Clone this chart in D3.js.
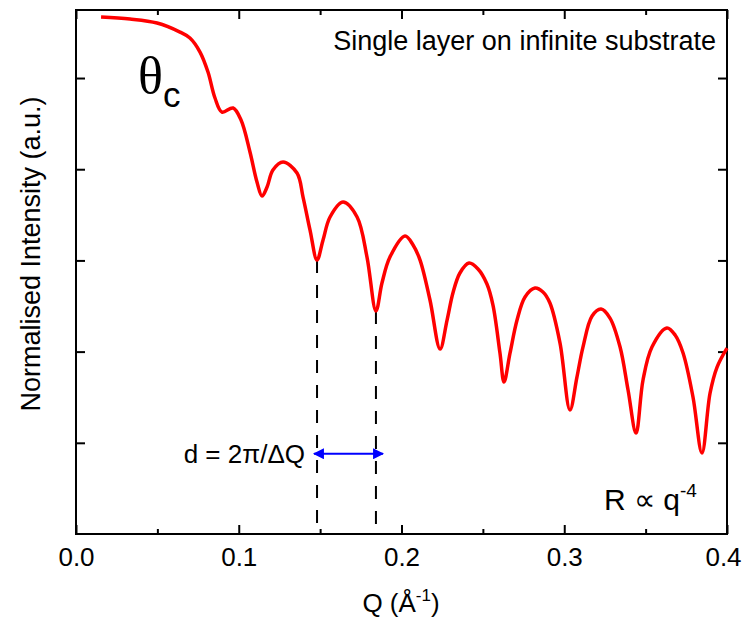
<!DOCTYPE html>
<html>
<head>
<meta charset="utf-8">
<script src="https://cdn.jsdelivr.net/npm/d3@7"></script>
<style>
  body { margin: 0; background: #fff; }
  text { font-family: "Liberation Sans", Arial, sans-serif; fill: #000; }
</style>
</head>
<body>
<svg id="chart" width="742" height="620"></svg>
<script>
// Q values (Å^-1)
const qValues = [0.0154, 0.0332, 0.0498, 0.0639, 0.0700, 0.0762, 0.0811, 0.0854, 0.0897, 0.0965,
  0.1014, 0.1069, 0.1112, 0.1143, 0.1174, 0.1210, 0.1272, 0.1358, 0.1395, 0.1438,
  0.1481, 0.1518, 0.1561, 0.1641, 0.1727, 0.1788, 0.1843, 0.1880, 0.1929, 0.2022,
  0.2071, 0.2114, 0.2175, 0.2237, 0.2280, 0.2316, 0.2359, 0.2415, 0.2470, 0.2525,
  0.2562, 0.2605, 0.2630, 0.2667, 0.2710, 0.2759, 0.2820, 0.2869, 0.2912, 0.2974,
  0.3035, 0.3078, 0.3115, 0.3171, 0.3226, 0.3281, 0.3343, 0.3392, 0.3441, 0.3484,
  0.3539, 0.3631, 0.3681, 0.3730, 0.3791, 0.3846, 0.3896, 0.3939, 0.4000];

// log10 of normalised intensity at each Q
const logIntensity = [-0.331, -0.353, -0.397, -0.496, -0.561, -0.715, -0.934, -1.219, -1.373, -1.329,
  -1.461, -1.811, -2.140, -2.294, -2.195, -2.009, -1.921, -2.042, -2.305, -2.667,
  -2.996, -2.776, -2.524, -2.360, -2.524, -2.963, -3.555, -3.248, -2.963, -2.732,
  -2.831, -2.996, -3.434, -3.971, -3.654, -3.357, -3.138, -3.029, -3.094, -3.259,
  -3.490, -4.015, -4.333, -4.015, -3.654, -3.401, -3.303, -3.346, -3.467, -3.906,
  -4.640, -4.279, -3.950, -3.610, -3.533, -3.632, -3.950, -4.421, -4.893, -4.311,
  -3.950, -3.741, -3.818, -4.015, -4.498, -5.112, -4.454, -4.169, -3.961];

const xTicks = [0.0, 0.1, 0.2, 0.3, 0.4];
const xMinorTicks = [0.05, 0.15, 0.25, 0.35];
const yTicks = [1e-1, 1e-2, 1e-3, 1e-4, 1e-5];

// the two minima marked by dashed lines
const fringeQ = [0.1481, 0.1843];
const fringeLog = [-2.996, -3.555];

const svg = d3.select("#chart");
const plotLeft = 76, plotRight = 727, plotTop = 10, plotBottom = 534;

const x = d3.scaleLinear().domain([0, 0.4]).range([plotLeft, plotRight]);
const y = d3.scaleLog().domain([1e-6, Math.pow(10, -0.254)]).range([plotBottom, plotTop]);

const data = qValues.map((q, i) => ({ q, r: Math.pow(10, logIntensity[i]) }));

// axes with inward ticks
function styleAxis(g) {
  g.select(".domain").remove();
  g.selectAll(".tick line").attr("stroke", "#000").attr("stroke-width", 2);
}

svg.append("g")
  .attr("transform", `translate(0,${plotBottom})`)
  .call(d3.axisBottom(x).tickValues(xTicks).tickSize(-9).tickSizeOuter(0).tickPadding(14)
    .tickFormat(d3.format(".1f")))
  .call(styleAxis)
  .call(g => g.selectAll("text").attr("font-size", 26).attr("font-family", "Liberation Sans, Arial, sans-serif"))
  .call(g => g.selectAll("text").filter(d => d === 0.4).attr("dx", -4));

svg.append("g")
  .attr("transform", `translate(0,${plotBottom})`)
  .call(d3.axisBottom(x).tickValues(xMinorTicks).tickSize(-5).tickFormat(""))
  .call(styleAxis);

svg.append("g")
  .attr("transform", `translate(0,${plotTop})`)
  .call(d3.axisTop(x).tickValues(xTicks).tickSize(-9).tickFormat(""))
  .call(styleAxis);

svg.append("g")
  .attr("transform", `translate(0,${plotTop})`)
  .call(d3.axisTop(x).tickValues(xMinorTicks).tickSize(-5).tickFormat(""))
  .call(styleAxis);

svg.append("g")
  .attr("transform", `translate(${plotLeft},0)`)
  .call(d3.axisLeft(y).tickValues(yTicks).tickSize(-9).tickFormat(""))
  .call(styleAxis);

svg.append("g")
  .attr("transform", `translate(${plotRight},0)`)
  .call(d3.axisRight(y).tickValues(yTicks).tickSize(-9).tickFormat(""))
  .call(styleAxis);

// frame
svg.append("rect")
  .attr("x", plotLeft).attr("y", plotTop)
  .attr("width", plotRight - plotLeft).attr("height", plotBottom - plotTop)
  .attr("fill", "none").attr("stroke", "#000").attr("stroke-width", 2);

// dashed markers below the two minima
svg.selectAll(".fringe")
  .data(fringeQ)
  .enter()
  .append("line")
  .attr("class", "fringe")
  .attr("x1", d => x(d)).attr("x2", d => x(d))
  .attr("y1", (d, i) => y(Math.pow(10, fringeLog[i])))
  .attr("y2", plotBottom)
  .attr("stroke", "#000").attr("stroke-width", 2)
  .attr("stroke-dasharray", "13,12");

// reflectivity curve
const line = d3.line()
  .x(d => x(d.q))
  .y(d => y(d.r))
  .curve(d3.curveCatmullRom.alpha(0.5));

svg.append("path")
  .datum(data)
  .attr("d", line)
  .attr("fill", "none")
  .attr("stroke", "#ff0000")
  .attr("stroke-width", 3.5)
  .attr("stroke-linejoin", "round");

// double arrow between the minima
const defs = svg.append("defs");
defs.append("marker")
  .attr("id", "head")
  .attr("viewBox", "0 0 10 10")
  .attr("refX", 9).attr("refY", 5)
  .attr("markerWidth", 6).attr("markerHeight", 5)
  .attr("markerUnits", "strokeWidth")
  .attr("orient", "auto-start-reverse")
  .append("path")
  .attr("d", "M0,0 L10,5 L0,10 Z")
  .attr("fill", "#0000ff");

const arrowY = y(Math.pow(10, -5.12));
svg.append("line")
  .attr("x1", x(fringeQ[0]) - 3).attr("x2", x(fringeQ[1]) + 7)
  .attr("y1", arrowY).attr("y2", arrowY)
  .attr("stroke", "#0000ff").attr("stroke-width", 2.2)
  .attr("marker-start", "url(#head)")
  .attr("marker-end", "url(#head)");

svg.append("text")
  .attr("x", 305).attr("y", arrowY + 9)
  .attr("text-anchor", "end")
  .attr("font-size", 26)
  .text("d = 2π/ΔQ");

// annotations
svg.append("text")
  .attr("x", 716).attr("y", 50)
  .attr("text-anchor", "end")
  .attr("font-size", 27)
  .text("Single layer on infinite substrate");

const theta = svg.append("text").attr("x", 138).attr("y", 93);
theta.append("tspan")
  .style("font-family", "Liberation Serif, Times New Roman, serif")
  .attr("font-size", 52)
  .text("θ");
theta.append("tspan")
  .attr("font-size", 35)
  .attr("dy", 14)
  .text("c");

const rq = svg.append("text").attr("x", 604).attr("y", 510).attr("font-size", 30);
rq.append("tspan").text("R ∝ q");
rq.append("tspan").attr("font-size", 19).attr("dy", -13).text("-4");

// axis titles
const xt = svg.append("text")
  .attr("x", 401).attr("y", 612)
  .attr("text-anchor", "middle")
  .attr("font-size", 26);
xt.append("tspan").text("Q (Å");
xt.append("tspan").attr("font-size", 17).attr("dy", -11).text("-1");
xt.append("tspan").attr("dy", 11).text(")");

svg.append("text")
  .attr("transform", `translate(40,${(plotTop + plotBottom) / 2 - 18}) rotate(-90)`)
  .attr("text-anchor", "middle")
  .attr("font-size", 27)
  .text("Normalised Intensity (a.u.)");
</script>
</body>
</html>
